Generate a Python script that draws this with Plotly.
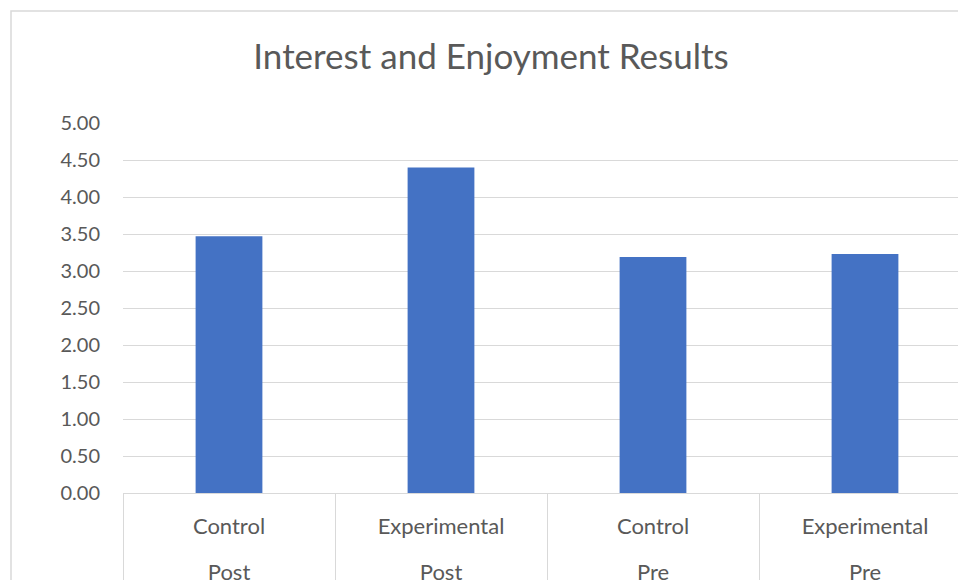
import plotly.graph_objects as go

groups = ["Control", "Experimental", "Control", "Experimental"]
phases = ["Post", "Post", "Pre", "Pre"]
scores = [3.47, 4.40, 3.19, 3.23]
y_ticks = [0, 0.5, 1, 1.5, 2, 2.5, 3, 3.5, 4, 4.5, 5]
y_tick_labels = [f"{v:.2f}" for v in y_ticks]
title = "Interest and Enjoyment Results"

cats = [f"{g}|{p}" for g, p in zip(groups, phases)]

FONT = "Lato"
TXT = "#595959"
GRID = "#D9D9D9"

W, H = 958, 580
L, R, T, B = 123, 0, 123, 87
plot_w = W - L - R
plot_h = H - T - B
cat_px = 212
x_range = [-0.5, -0.5 + plot_w / cat_px]

fig = go.Figure()
fig.add_trace(go.Bar(
    x=cats, y=scores, width=0.315,
    marker=dict(color="#4472C4", line=dict(width=0)),
    hoverinfo="y",
))
# invisible carrier trace for the outer (Post/Pre) label row
fig.add_trace(go.Scatter(
    x=cats, y=scores, xaxis="x2", mode="markers",
    marker=dict(opacity=0), hoverinfo="skip", showlegend=False,
))

fig.update_layout(
    width=W, height=H,
    margin=dict(l=L, r=R, t=T, b=B, autoexpand=False),
    paper_bgcolor="white", plot_bgcolor="white",
    showlegend=False,
    title=dict(text=title, x=(491 - L) / plot_w, xref="paper", xanchor="center",
               y=1 - 57 / H, yref="container", yanchor="middle",
               font=dict(family=FONT, size=35, color=TXT)),
    font=dict(family=FONT, color=TXT),
    xaxis=dict(
        type="category", range=x_range, automargin=False,
        tickmode="array", tickvals=cats, ticktext=groups,
        tickson="boundaries", ticks="outside", ticklen=100,
        tickcolor=GRID, tickwidth=1,
        ticklabelstandoff=14,
        showline=True, linecolor=GRID, linewidth=1,
        showgrid=False, zeroline=False,
        tickfont=dict(family=FONT, size=22, color=TXT),
        fixedrange=True,
    ),
    xaxis2=dict(
        type="category", range=x_range, overlaying="x", anchor="y",
        side="bottom", automargin=False,
        tickmode="array", tickvals=cats, ticktext=phases,
        ticks="", showline=False, showgrid=False, zeroline=False,
        ticklabelstandoff=64,
        tickfont=dict(family=FONT, size=22, color=TXT),
        fixedrange=True,
    ),
    yaxis=dict(
        range=[0, 5], automargin=False,
        tickmode="array", tickvals=y_ticks, ticktext=y_tick_labels,
        showgrid=True, gridcolor=GRID, gridwidth=1,
        zeroline=False, showline=False, ticks="",
        ticklabelstandoff=22,
        tickfont=dict(family=FONT, size=20, color=TXT),
        fixedrange=True,
    ),
)

# outer chart-area border (light gray), extending past the window edges
fig.add_shape(type="rect", xref="paper", yref="paper",
              x0=(11 - L) / plot_w, x1=1.2,
              y0=-1.0, y1=1 + (T - 11) / plot_h,
              line=dict(color=GRID, width=1.5), fillcolor="rgba(0,0,0,0)",
              layer="below")

fig.write_html("out.html")
